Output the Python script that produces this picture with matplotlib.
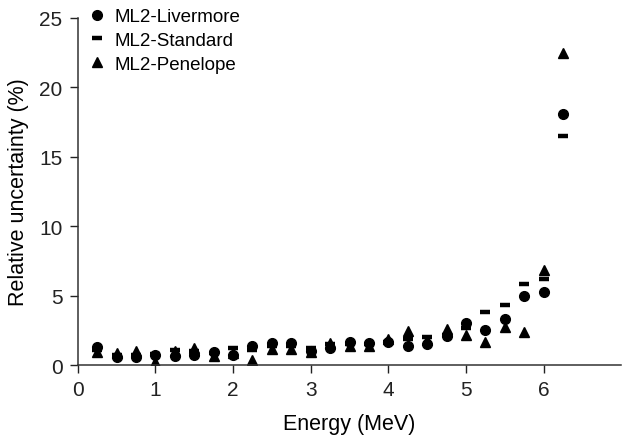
import matplotlib
matplotlib.use("Agg")
import matplotlib.pyplot as plt

plt.rcParams['font.family'] = ['Liberation Sans', 'DejaVu Sans']

# Energy bins (MeV)
energy = [0.25, 0.5, 0.75, 1.0, 1.25, 1.5, 1.75, 2.0, 2.25, 2.5, 2.75, 3.0, 3.25,
          3.5, 3.75, 4.0, 4.25, 4.5, 4.75, 5.0, 5.25, 5.5, 5.75, 6.0, 6.25]

# Relative uncertainty (%) per physics list
livermore = [1.3, 0.55, 0.6, 0.7, 0.65, 0.7, 0.95, 0.75, 1.35, 1.6, 1.6, 1.0, 1.25,
             1.65, 1.6, 1.7, 1.4, 1.55, 2.1, 3.0, 2.55, 3.35, 5.0, 5.3, 18.1]
standard = [1.1, 0.7, 0.7, 0.8, 1.1, 1.0, 0.9, 1.25, 1.1, 1.4, 1.4, 1.25, 1.5,
            1.5, 1.5, 1.65, 1.85, 2.05, 2.2, 2.7, 3.8, 4.35, 5.85, 6.2, 16.5]
penelope = [0.95, 0.85, 1.0, 0.25, 1.05, 1.2, 0.65, 0.9, 0.35, 1.15, 1.15, 0.95, 1.6,
            1.4, 1.35, 1.85, 2.45, 1.8, 2.6, 2.15, 1.65, 2.75, 2.35, 6.85, 22.5]

x_ticks = [0, 1, 2, 3, 4, 5, 6]
y_ticks = [0, 5, 10, 15, 20, 25]

fig = plt.figure(figsize=(6.22, 4.39), dpi=100)
ax = fig.add_axes([0.125, 0.166, 0.874, 0.791])

ax.plot(energy, livermore, 'o', color='black', markersize=7.0, linestyle='none',
        label='ML2-Livermore')
ax.plot(energy, standard, '_', color='black', markersize=7, markeredgewidth=3.2,
        linestyle='none', label='ML2-Standard')
ax.plot(energy, penelope, '^', color='black', markersize=7.8, linestyle='none',
        label='ML2-Penelope')

ax.set_xlim(0, 7)
ax.set_ylim(0, 25)
ax.set_xticks(x_ticks)
ax.set_yticks(y_ticks)
ax.tick_params(direction='out', length=6, width=1, labelsize=15, colors='#222222')
ax.tick_params(axis='y', pad=5)
ax.tick_params(axis='x', pad=4.5)

for side in ['top', 'right']:
    ax.spines[side].set_visible(False)
for side in ['left', 'bottom']:
    ax.spines[side].set_linewidth(1.1)
    ax.spines[side].set_color('#333333')

ax.set_xlabel('Energy (MeV)', fontsize=15.5, labelpad=10)
ax.set_ylabel('Relative uncertainty (%)', fontsize=15.5, labelpad=7)

ax.legend(loc='upper left', bbox_to_anchor=(0.0, 1.05), frameon=False,
          fontsize=13.5, handlelength=1.2, handletextpad=0.35, labelspacing=0.36,
          borderaxespad=0)

fig.savefig('out.png', dpi=100)
